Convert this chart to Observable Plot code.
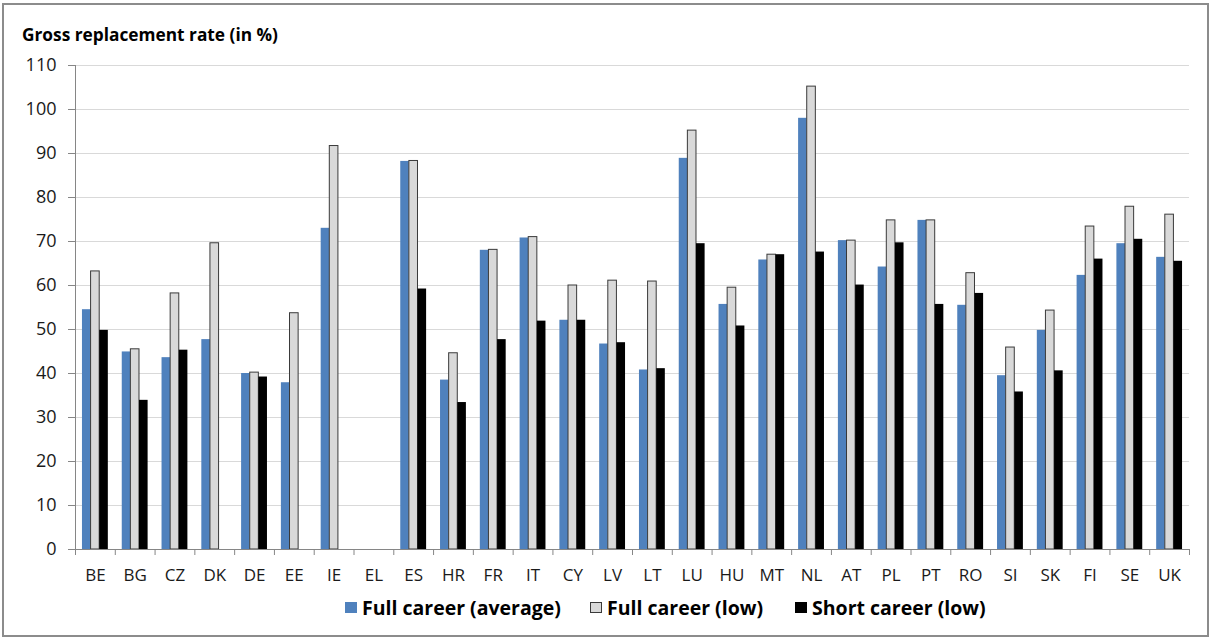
<!DOCTYPE html>
<html><head><meta charset="utf-8">
<script src="https://cdn.jsdelivr.net/npm/d3@7"></script>
<script src="https://cdn.jsdelivr.net/npm/@observablehq/plot@0.6"></script>
<style>
body{margin:0;background:#fff;width:1212px;height:637px;position:relative;overflow:hidden;}
#frame{position:absolute;left:2px;top:3px;width:1207px;height:634px;border:2px solid #8c8c8c;box-sizing:border-box;z-index:10;}
#title{position:absolute;left:22px;top:23px;line-height:1;font:bold 17.3px "Open Sans",sans-serif;color:#000;white-space:nowrap;}
#chart{position:absolute;left:0;top:50px;}
.lg-sw{position:absolute;top:602px;width:12px;height:11px;box-sizing:border-box;}
.lg-tx{position:absolute;top:594px;line-height:1;font:bold 19.5px "Open Sans",sans-serif;color:#000;white-space:nowrap;}
</style>
</head><body>
<div id="frame"></div>
<div id="title">Gross replacement rate (in %)</div>
<div id="chart"></div>
<div id="legend"></div>
<script>
const countries = ["BE","BG","CZ","DK","DE","EE","IE","EL","ES","HR","FR","IT","CY","LV","LT","LU","HU","MT","NL","AT","PL","PT","RO","SI","SK","FI","SE","UK"];
const fullAvg  = [54.5,44.9,43.6,47.7,40.0,37.9,73.0,null,88.2,38.5,68.0,70.8,52.1,46.7,40.8,88.9,55.7,65.8,98.0,70.2,64.2,74.8,55.5,39.5,49.8,62.3,69.5,66.4];
const fullLow  = [63.2,45.5,58.2,69.6,40.2,53.7,91.7,null,88.3,44.6,68.1,71.0,60.0,61.1,60.9,95.2,59.5,67.0,105.2,70.2,74.8,74.8,62.8,45.9,54.3,73.4,77.9,76.1];
const shortLow = [49.8,33.9,45.3,null,39.2,null,null,null,59.2,33.4,47.7,51.9,52.1,47.0,41.1,69.5,50.8,67.0,67.6,60.1,69.7,55.7,58.2,35.8,40.6,66.0,70.5,65.5];
const seriesNames = ["Full career (average)","Full career (low)","Short career (low)"];
const yTicks = [0,10,20,30,40,50,60,70,80,90,100,110];

const seriesValues = [fullAvg, fullLow, shortLow];
const rows = seriesValues.map(vals => countries.map((c,i) => ({country:c, value:vals[i]})));

const W = 1212, H = 545, mL = 75, mR = 23, mT = 15, mB = 46;
const step = (W - mL - mR) / countries.length;
const gap = step * 0.175;            // empty space at each side of a country group
const b = (step - 2 * gap) / 3;      // width of one bar
const axisColor = "#868686";

const chart = Plot.plot({
  width: W, height: H,
  marginLeft: mL, marginRight: mR, marginTop: mT, marginBottom: mB,
  style: {fontFamily: "'Open Sans', sans-serif", fontSize: "18px", color: "#1a1a1a", background: "transparent"},
  x: {domain: countries, padding: 0, round: false, label: null},
  y: {domain: [0, 110], label: null},
  marks: [
    Plot.gridY(yTicks, {stroke: "#d9d9d9", strokeOpacity: 1}),
    Plot.axisY(yTicks, {tickSize: 7, tickPadding: 12, stroke: axisColor, label: null}),
    Plot.axisX({tickSize: 0, tickPadding: 19, label: null, fontSize: 17}),
    Plot.barY(rows[0], {x: "country", y: "value", fill: "#4f81bd", insetLeft: gap, insetRight: gap + 2*b}),
    Plot.barY(rows[1], {x: "country", y: "value", fill: "#d9d9d9", stroke: "#3a3a3a", strokeWidth: 1, insetLeft: gap + b, insetRight: gap + b}),
    Plot.barY(rows[2], {x: "country", y: "value", fill: "#000", insetLeft: gap + 2*b, insetRight: gap}),
    Plot.ruleY([0], {stroke: axisColor}),
    Plot.ruleX(countries, {x: d => d, y1: 0, y2: 0, dx: -step/2, insetBottom: -6, stroke: axisColor}),
    Plot.ruleX([countries[countries.length-1]], {x: d => d, y1: 0, y2: 0, dx: step/2, insetBottom: -6, stroke: axisColor}),
    Plot.ruleX([countries[0]], {x: d => d, y1: 0, y2: 110, dx: -step/2, stroke: axisColor})
  ]
});
document.getElementById("chart").appendChild(chart);

const colors = [{fill:"#4f81bd",stroke:"none"},{fill:"#d9d9d9",stroke:"#3a3a3a"},{fill:"#000",stroke:"none"}];
const legendLeft = [345, 590, 795];
const legend = document.getElementById("legend");
seriesNames.forEach((name,i) => {
  const sw = document.createElement("div"); sw.className = "lg-sw";
  sw.style.left = legendLeft[i] + "px";
  sw.style.background = colors[i].fill;
  if (colors[i].stroke !== "none") sw.style.border = "1px solid " + colors[i].stroke;
  const t = document.createElement("div"); t.className = "lg-tx"; t.textContent = name;
  t.style.left = (legendLeft[i] + 17) + "px";
  legend.appendChild(sw); legend.appendChild(t);
});
</script>
</body></html>
